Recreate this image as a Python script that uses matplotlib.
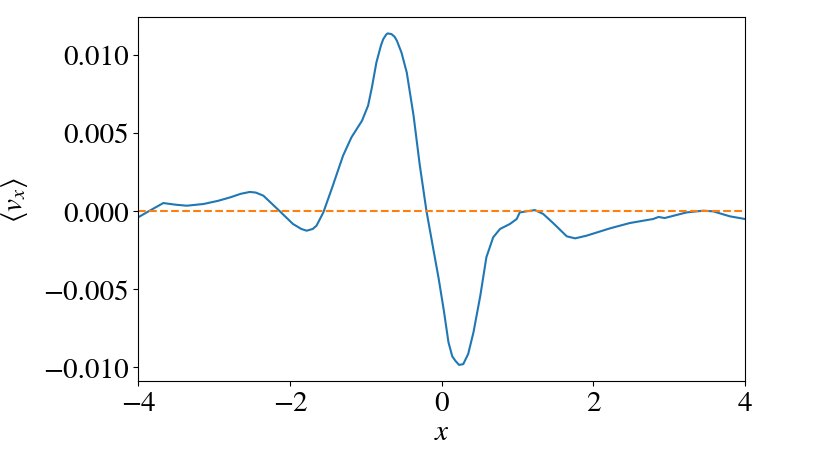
import matplotlib
matplotlib.use("Agg")
import matplotlib.pyplot as plt

plt.rcParams["font.family"] = "STIXGeneral"
plt.rcParams["mathtext.fontset"] = "stix"

# values
x = [-4.00, -3.85, -3.67, -3.50, -3.36, -3.14, -2.95, -2.79, -2.65, -2.53, -2.45, -2.35,
     -2.15, -1.96, -1.85, -1.78, -1.70, -1.65, -1.56, -1.45, -1.30, -1.19, -1.05, -0.97,
     -0.92, -0.86, -0.80, -0.77, -0.73, -0.71, -0.66, -0.62, -0.59, -0.53, -0.46, -0.37,
     -0.29, -0.20, -0.11, -0.04, 0.03, 0.09, 0.14, 0.18, 0.23, 0.285, 0.35, 0.42, 0.51,
     0.59, 0.68, 0.77, 0.90, 0.99, 1.03, 1.12, 1.23, 1.34, 1.47, 1.65, 1.76, 1.91, 2.22,
     2.48, 2.79, 2.86, 2.94, 3.23, 3.45, 3.58, 3.80, 4.00]
vx = [-0.00040, 0.00002, 0.00051, 0.00040, 0.00034, 0.00045, 0.00065, 0.00087, 0.00110,
      0.00122, 0.00118, 0.00098, 0.00006, -0.00083, -0.00115, -0.00126, -0.00115,
      -0.00094, -0.00009, 0.00141, 0.00354, 0.00471, 0.00578, 0.00674, 0.00790, 0.00951,
      0.01060, 0.01100, 0.01130, 0.01137, 0.01132, 0.01115, 0.01090, 0.01015, 0.00887,
      0.00610, 0.00300, 0.00000, -0.00243, -0.00430, -0.00640, -0.00840, -0.00930,
      -0.00958, -0.00985, -0.00980, -0.00915, -0.00776, -0.00542, -0.00296, -0.00168,
      -0.00115, -0.00083, -0.00051, -0.00009, -0.00002, 0.00006, -0.00019, -0.00077,
      -0.00162, -0.00175, -0.00158, -0.00111, -0.00077, -0.00051, -0.00038, -0.00045,
      -0.00009, 0.00002, -0.00002, -0.00034, -0.00051]
ref_x = [-4, 4]
ref_y = [0, 0]

fig = plt.figure(figsize=(8.31, 4.56), dpi=100)
ax = fig.add_axes([0.1664, 0.1616, 0.7301, 0.7983])
ax.plot(x, vx, color="tab:blue", linewidth=1.5)
ax.plot(ref_x, ref_y, color="tab:orange", linestyle="--", linewidth=1.5)
ax.set_xlim(-4, 4)
ax.set_ylim(-0.0109, 0.0124)
ax.set_xticks([-4, -2, 0, 2, 4])
ax.set_yticks([-0.010, -0.005, 0.000, 0.005, 0.010])
ax.tick_params(labelsize=21)
ax.set_xlabel(r"$x$", fontsize=21, labelpad=3)
ax.set_ylabel(r"$\langle v_x \rangle$", fontsize=21, labelpad=9)
fig.savefig("out.png", dpi=100)
